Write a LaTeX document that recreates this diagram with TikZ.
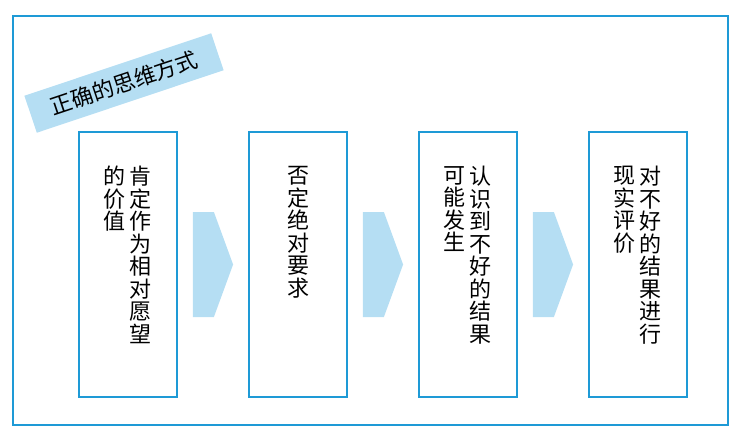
\documentclass[tikz,border=0pt]{standalone}
\usepackage{fontspec}
\newfontfamily\cjk{Noto Sans CJK SC}
\usepackage{tikz}
\usetikzlibrary{positioning, calc}
\definecolor{cFrame}{HTML}{1E9AD6}
\definecolor{cPale} {HTML}{B5DEF3}
\tikzset{
  stepbox/.style={draw=cFrame, line width=1.8pt, minimum width=98pt,
                  minimum height=265pt, inner sep=0pt},
  coltext/.style={font=\cjk\fontsize{22}{22.5}\selectfont, align=center,
                  inner sep=0pt, anchor=north},
  chevron/.style={fill=cPale},
}
\begin{document}
\begin{tikzpicture}[x=1pt, y=-1pt]
  \useasboundingbox (0,0) rectangle (737,442);
  % outer frame
  \draw[cFrame, line width=1.8pt] (13,16) rectangle (728,425);
  % tilted tag
  \node[fill=cPale, rotate=18.5, minimum width=197pt, minimum height=39pt,
        font=\cjk\fontsize{22}{24}\selectfont] (tag) at (124,83) {正确的思维方式};
  % the four steps
  \node[stepbox] (box1) at (128,264.5) {};
  \node[stepbox, right=70.2pt of box1] (box2) {};
  \node[stepbox, right=70.2pt of box2] (box3) {};
  \node[stepbox, right=70.2pt of box3] (box4) {};
  % chevrons between steps
  \foreach \a/\b in {box1/box2, box2/box3, box3/box4}{
    \fill[chevron] ($(\a.east)+(15,-52.5)$) -- ++(21,0)
      -- ($(\b.west)+(-15,0)$) -- ($(\a.east)+(36,52.5)$) -- ++(-21,0) -- cycle;
  }
  % texts, columns read right to left
  \node[coltext] (t1a) at ($(box1.north)+(12.5,35)$) {肯\\定\\作\\为\\相\\对\\愿\\望};
  \node[coltext] (t1b) at ($(box1.north)+(-14,35)$) {的\\价\\值};
  \node[coltext] (t2a) at ($(box2.north)+(0,35)$) {否\\定\\绝\\对\\要\\求};
  \node[coltext] (t3a) at ($(box3.north)+(12.5,35)$) {认\\识\\到\\不\\好\\的\\结\\果};
  \node[coltext] (t3b) at ($(box3.north)+(-14,35)$) {可\\能\\发\\生};
  \node[coltext] (t4a) at ($(box4.north)+(12.5,35)$) {对\\不\\好\\的\\结\\果\\进\\行};
  \node[coltext] (t4b) at ($(box4.north)+(-14,35)$) {现\\实\\评\\价};
\end{tikzpicture}
\end{document}
